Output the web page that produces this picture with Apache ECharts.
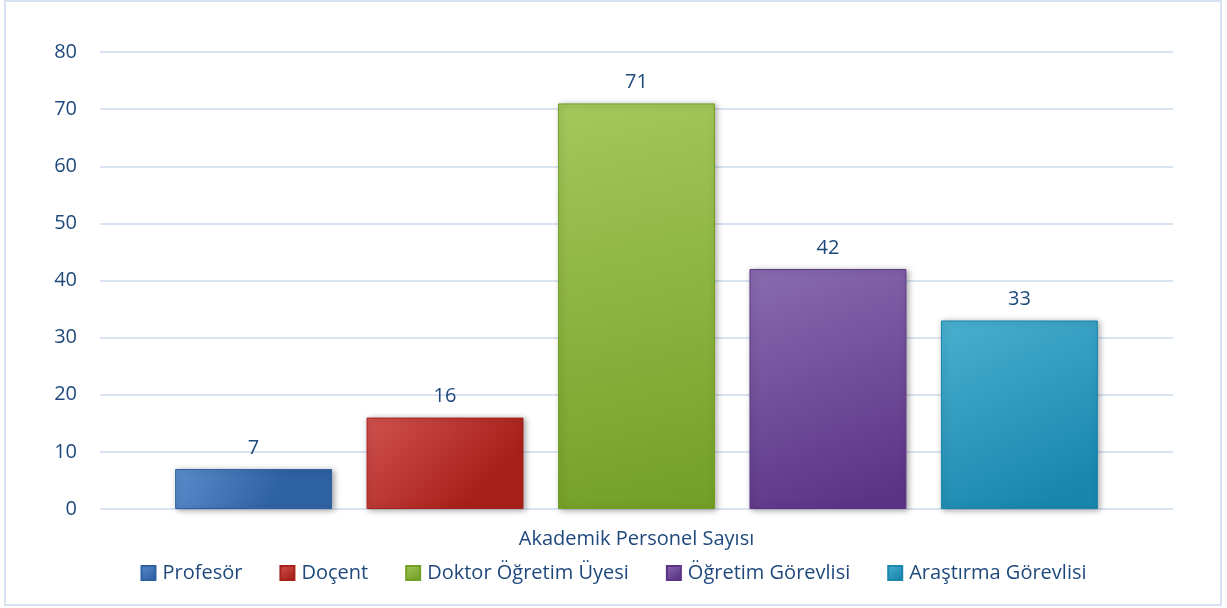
<!DOCTYPE html>
<html>
<head>
<meta charset="utf-8">
<script src="https://cdn.jsdelivr.net/npm/echarts@6/dist/echarts.min.js"></script>
<style>
  html, body { margin: 0; padding: 0; background: #fff; }
  #main { width: 1227px; height: 608px; }
</style>
</head>
<body>
<div id="main"></div>
<script>
// kategori ve seriler
var categories = ['Akademik Personel Sayısı']
var seriesNames = ['Profesör', 'Doçent', 'Doktor Öğretim Üyesi', 'Öğretim Görevlisi', 'Araştırma Görevlisi']
var values = [7, 16, 71, 42, 33]
var yTicks = [0, 10, 20, 30, 40, 50, 60, 70, 80]

// renkler (açık, koyu)
var colors = [
    ['#5a8ccc', '#2f62a3'],
    ['#d0524e', '#a8201a'],
    ['#a4c85c', '#73a026'],
    ['#8a6bb0', '#5c3486'],
    ['#49b0cf', '#1886ad']
]
var textColor = '#1f497d'

var myChart = echarts.init(document.getElementById('main'))

var series = seriesNames.map(function (name, i) {
    return {
        name: name,
        type: 'bar',
        data: [values[i]],
        barGap: '22%',
        barCategoryGap: '14%',
        itemStyle: {
            color: new echarts.graphic.LinearGradient(0, 0, 0.6, 1, [
                { offset: 0, color: colors[i][0] },
                { offset: 1, color: colors[i][1] }
            ]),
            borderColor: colors[i][1],
            borderWidth: 1,
            shadowColor: 'rgba(0,0,0,0.35)',
            shadowBlur: 6,
            shadowOffsetX: 2,
            shadowOffsetY: 1
        },
        label: {
            show: true,
            position: 'top',
            distance: 11,
            color: textColor,
            fontSize: 20,
            fontFamily: 'Open Sans'
        }
    }
})

var option = {
    animation: false,
    backgroundColor: '#fff',
    textStyle: { fontFamily: 'Open Sans' },
    graphic: [{
        type: 'rect',
        shape: { x: 5, y: 1, width: 1216, height: 604 },
        style: { fill: 'none', stroke: '#d6e2f2', lineWidth: 2 },
        silent: true
    }],
    grid: { left: 100, right: 54, top: 52, bottom: 99, containLabel: false },
    xAxis: {
        type: 'category',
        data: categories,
        axisLine: { show: false },
        axisTick: { show: false },
        axisLabel: { color: textColor, fontSize: 20, margin: 20 }
    },
    yAxis: {
        type: 'value',
        min: yTicks[0],
        max: yTicks[yTicks.length - 1],
        interval: 10,
        axisLine: { show: false },
        axisTick: { show: false },
        axisLabel: { color: textColor, fontSize: 20, margin: 23 },
        splitLine: { lineStyle: { color: '#d9e3f1', width: 2 } }
    },
    legend: {
        top: 558,
        left: 'center',
        itemWidth: 14,
        itemHeight: 14,
        itemGap: 37,
        icon: 'rect',
        textStyle: { color: textColor, fontSize: 20, padding: [0, 0, 0, 2] },
        data: seriesNames
    },
    series: series
}

myChart.setOption(option)
</script>
</body>
</html>
